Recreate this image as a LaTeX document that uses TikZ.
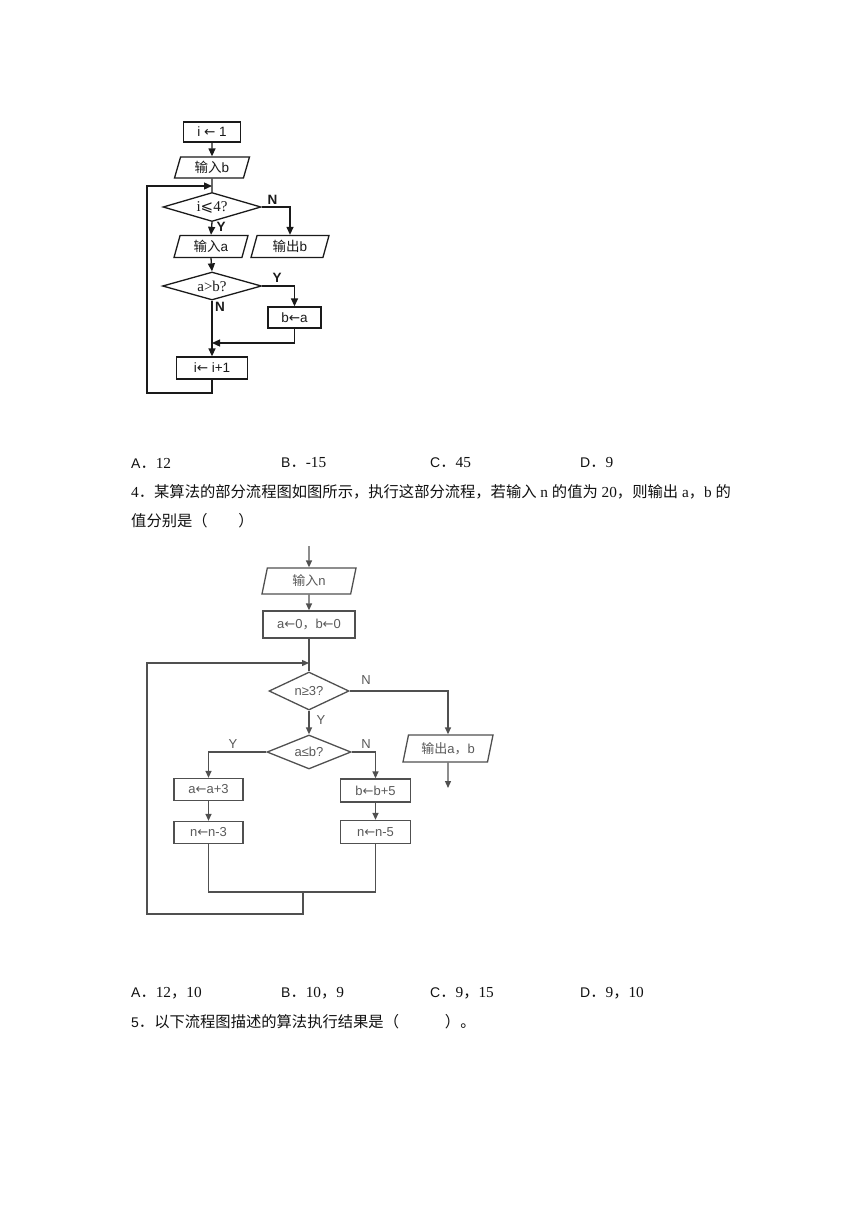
\documentclass[tikz,border=0pt]{standalone}
\usepackage{fontspec}
\setmainfont{Liberation Serif}
\setsansfont{Liberation Sans}
\newfontfamily\cjk{Noto Sans CJK SC}
\newfontfamily\dsans{DejaVu Sans}
\usetikzlibrary{shapes.geometric,arrows.meta}
\definecolor{topc}{HTML}{1A1A1A}
\definecolor{botc}{HTML}{505050}
\definecolor{bott}{HTML}{5A5A5A}
\definecolor{txtc}{HTML}{111111}
\newcommand{\zh}[1]{{\cjk #1}}
\newcommand{\la}{{\dsans ←}}
\tikzset{
  tline/.style={draw=topc, line width=1.3pt},
  tarr/.style={tline, -{Triangle[length=8pt,width=7pt]}},
  tfont/.style={font=\sffamily\fontsize{13.5}{13.5}\selectfont, text=topc},
  tbox/.style={rectangle, draw=topc, line width=1.3pt, inner sep=0pt, tfont},
  tpara/.style={trapezium, trapezium left angle=64, trapezium right angle=116,
     trapezium stretches body, draw=topc, line width=1.3pt, inner sep=0pt, tfont},
  tdia/.style={diamond, aspect=4, draw=topc, line width=1.3pt, inner sep=0pt, tfont},
  tlab/.style={font=\sffamily\bfseries\fontsize{13.5}{13.5}\selectfont, text=topc, inner sep=0pt},
  bline/.style={draw=botc, line width=1.3pt},
  barr/.style={bline, -{Triangle[length=7pt,width=6pt]}},
  bfont/.style={font=\sffamily\fontsize{13}{13}\selectfont, text=bott},
  bbox/.style={rectangle, draw=botc, line width=1.3pt, inner sep=0pt, bfont},
  bpara/.style={trapezium, trapezium left angle=66, trapezium right angle=114,
     trapezium stretches body, draw=botc, line width=1.3pt, inner sep=0pt, bfont},
  bdia/.style={diamond, aspect=2.5, draw=botc, line width=1.3pt, inner sep=0pt, bfont},
  blab/.style={font=\sffamily\fontsize{13}{13}\selectfont, text=bott, inner sep=0pt},
  qtext/.style={anchor=west, inner sep=0pt, text=txtc, font=\fontsize{15.3}{15.3}\selectfont},
}
\begin{document}
\begin{tikzpicture}[x=1pt,y=-1pt]
\useasboundingbox[fill=white] (0,0) rectangle (860,1216);

% ---------- top flowchart ----------
\node[tbox, minimum width=57pt, minimum height=20pt] (t1) at (212,132) {i \la{} 1};
\node[tpara, minimum width=75pt, minimum height=21pt] (t2) at (212,167.5) {\zh{输入}b};
\node[tdia, minimum width=98pt, minimum height=29pt] (td1) at (212,207) {\rmfamily\fontsize{15}{15}\selectfont i{\dsans ⩽}4?};
\node[tpara, minimum width=74pt, minimum height=22pt] (t3) at (211,246.5) {\zh{输入}a};
\node[tpara, minimum width=78pt, minimum height=22pt] (t4) at (290,246.5) {\zh{输出}b};
\node[tdia, minimum width=99pt, minimum height=28pt] (td2) at (212,286) {\rmfamily\fontsize{15}{15}\selectfont a>b?};
\node[tbox, minimum width=53pt, minimum height=21pt] (t5) at (294.5,317.5) {b\la a};
\node[tbox, minimum width=71pt, minimum height=22pt] (t6) at (212,368) {i\la{} i+1};

\coordinate (j1) at (212,186);
\coordinate (j2) at (212,343);
\coordinate (l1) at (212,393);
\coordinate (l2) at (147,393);
\coordinate (l3) at (147,186);

\draw[tarr] (t1) -- (t2);
\draw[tline] (t2.south) -- (td1.north);
\draw[tarr] (td1.south) -- (t3.north);
\draw[tarr] (td1.east) -| (t4.north);
\draw[tarr] (t3.south) -- (td2.north);
\draw[tarr] (td2.east) -| (t5.north);
\draw[tarr] (td2.south) -- (t6.north);
\draw[tarr] (t5.south) |- (j2);
\draw[tarr] (t6.south) -- (l1) -- (l2) -- (l3) -- (j1);

\node[tlab] (tn1) at (272.5,199.5) {N};
\node[tlab] (ty1) at (221,227) {Y};
\node[tlab] (ty2) at (277,277.5) {Y};
\node[tlab] (tn2) at (220,307) {N};

% ---------- text rows ----------
\node[qtext] (a1) at (131,463) {{\sffamily\fontsize{14}{14}\selectfont A}\zh{．}12};
\node[qtext] (b1) at (281,463) {{\sffamily\fontsize{14}{14}\selectfont B}\zh{．}-15};
\node[qtext] (c1) at (430,463) {{\sffamily\fontsize{14}{14}\selectfont C}\zh{．}45};
\node[qtext] (d1) at (580,463) {{\sffamily\fontsize{14}{14}\selectfont D}\zh{．}9};
\node[qtext] (q4) at (131,492) {4\zh{．某算法的部分流程图如图所示，执行这部分流程，若输入} n \zh{的值为} 20\zh{，则输出} a\zh{，}b \zh{的}};
\node[qtext] (q4b) at (131,521) {\zh{值分别是（　　）}};

% ---------- bottom flowchart ----------
\coordinate (e0) at (309,546);
\node[bpara, minimum width=94pt, minimum height=26pt] (bn1) at (309,581) {\zh{输入}n};
\node[bbox, minimum width=92pt, minimum height=27pt] (bn2) at (309,624.5) {a\la0\zh{，}b\la0};
\node[bdia, minimum width=80pt, minimum height=38pt] (bd1) at (309,691) {n≥3?};
\node[bpara, minimum width=90pt, minimum height=27pt] (bn3) at (448,748.5) {\zh{输出}a\zh{，}b};
\coordinate (bout) at (448,788);
\node[bdia, minimum width=84pt, minimum height=34pt] (bd2) at (309,752) {a≤b?};
\node[bbox, minimum width=69pt, minimum height=22pt] (bn4) at (208.5,789.5) {a\la a+3};
\node[bbox, minimum width=69pt, minimum height=22pt] (bn5) at (208.5,832.5) {n\la n-3};
\node[bbox, minimum width=70pt, minimum height=23pt] (bn6) at (375.5,790.5) {b\la b+5};
\node[bbox, minimum width=70pt, minimum height=23pt] (bn7) at (375.5,832) {n\la n-5};

\coordinate (j3) at (309,663);
\coordinate (m1) at (208.5,892);
\coordinate (m2) at (375.5,892);
\coordinate (m3) at (303,892);
\coordinate (m4) at (303,914);
\coordinate (m5) at (147,914);
\coordinate (m6) at (147,663);

\draw[barr] (e0) -- (bn1.north);
\draw[barr] (bn1.south) -- (bn2.north);
\draw[bline] (bn2.south) -- (bd1.north);
\draw[barr] (bd1.east) -| (bn3.north);
\draw[barr] (bn3.south) -- (bout);
\draw[barr] (bd1.south) -- (bd2.north);
\draw[barr] (bd2.west) -| (bn4.north);
\draw[barr] (bd2.east) -| (bn6.north);
\draw[barr] (bn4.south) -- (bn5.north);
\draw[barr] (bn6.south) -- (bn7.north);
\draw[bline] (bn5.south) -- (m1) -- (m2) -- (bn7.south);
\draw[barr] (m3) -- (m4) -- (m5) -- (m6) -- (j3);

\node[blab] (bnl1) at (366,680) {N};
\node[blab] (byl1) at (321,720) {Y};
\node[blab] (byl2) at (233,744) {Y};
\node[blab] (bnl2) at (366,744) {N};

% ---------- second text rows ----------
\node[qtext] (a2) at (131,993) {{\sffamily\fontsize{14}{14}\selectfont A}\zh{．}12\zh{，}10};
\node[qtext] (b2) at (281,993) {{\sffamily\fontsize{14}{14}\selectfont B}\zh{．}10\zh{，}9};
\node[qtext] (c2) at (430,993) {{\sffamily\fontsize{14}{14}\selectfont C}\zh{．}9\zh{，}15};
\node[qtext] (d2) at (580,993) {{\sffamily\fontsize{14}{14}\selectfont D}\zh{．}9\zh{，}10};
\node[qtext] (q5) at (131,1022) {{\sffamily\fontsize{14}{14}\selectfont 5}\zh{．以下流程图描述的算法执行结果是（　　　）。}};
\end{tikzpicture}
\end{document}
